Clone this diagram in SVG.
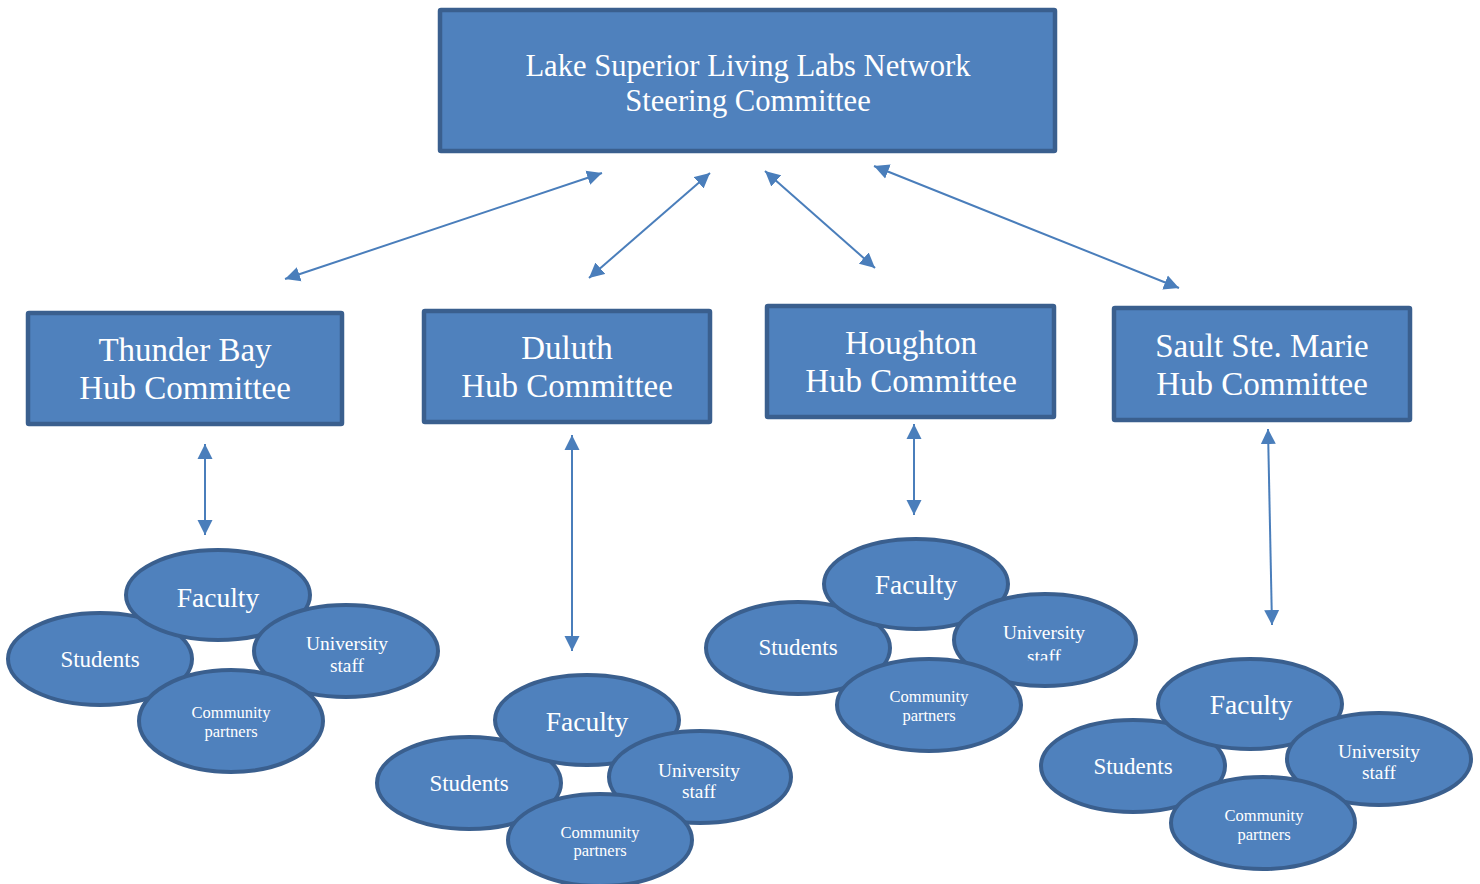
<svg xmlns="http://www.w3.org/2000/svg" width="1480" height="884" viewBox="0 0 1480 884">
<defs>
<marker id="ah" markerUnits="userSpaceOnUse" markerWidth="16" markerHeight="16" viewBox="0 0 16 16" refX="15" refY="8" orient="auto-start-reverse">
<path d="M0,0.5 L15,8 L0,15.5 z" fill="#4A7EBB"/>
</marker>
<clipPath id="hoStaffClip"><rect x="990" y="600" width="110" height="60.5"/></clipPath>
</defs>
<style>
.box{fill:#4F81BD;stroke:#3A5F8E;stroke-width:4.5}
.ell{fill:#4F81BD;stroke:#3A5F8E;stroke-width:4}
.t{font-family:"Liberation Serif","Times New Roman",serif;fill:#FFFFFF;text-anchor:middle}
.conn line{stroke:#4A7EBB;stroke-width:2;marker-start:url(#ah);marker-end:url(#ah)}
</style>
<rect width="1480" height="884" fill="#FFFFFF"/>

<g id="steering">
<rect class="box" x="440" y="10" width="615" height="141" rx="1"/>
<text class="t" x="748" y="76" font-size="30.6">Lake Superior Living Labs Network</text>
<text class="t" x="748" y="111" font-size="30.6">Steering Committee</text>
</g>

<g id="hub-thunder-bay">
<rect class="box" x="28" y="313" width="314" height="111" rx="1"/>
<text class="t" x="185" y="361" font-size="33">Thunder Bay</text>
<text class="t" x="185" y="399" font-size="33">Hub Committee</text>
</g>
<g id="hub-duluth">
<rect class="box" x="424" y="311" width="286" height="111" rx="1"/>
<text class="t" x="567" y="359" font-size="33">Duluth</text>
<text class="t" x="567" y="397" font-size="33">Hub Committee</text>
</g>
<g id="hub-houghton">
<rect class="box" x="767" y="306" width="287" height="111" rx="1"/>
<text class="t" x="911" y="354" font-size="33">Houghton</text>
<text class="t" x="911" y="392" font-size="33">Hub Committee</text>
</g>
<g id="hub-sault">
<rect class="box" x="1114" y="308" width="296" height="112" rx="1"/>
<text class="t" x="1262" y="357" font-size="33">Sault Ste. Marie</text>
<text class="t" x="1262" y="395" font-size="33">Hub Committee</text>
</g>

<g id="connectors" class="conn">
<line x1="285" y1="279" x2="602" y2="173"/>
<line x1="589" y1="278" x2="710" y2="173"/>
<line x1="875" y1="268" x2="765" y2="171"/>
<line x1="1179" y1="288" x2="874" y2="166"/>
<line x1="205" y1="535" x2="205" y2="444"/>
<line x1="572" y1="651" x2="572" y2="435"/>
<line x1="914" y1="515" x2="914" y2="424"/>
<line x1="1272" y1="625" x2="1268" y2="429"/>
</g>

<g id="cluster-thunder-bay">
<g id="tb-students"><ellipse class="ell" cx="100" cy="659" rx="92" ry="46"/>
<text class="t" x="100" y="667" font-size="23">Students</text></g>
<g id="tb-faculty"><ellipse class="ell" cx="218" cy="595" rx="92" ry="45"/>
<text class="t" x="218" y="607" font-size="27.5">Faculty</text></g>
<g id="tb-staff"><ellipse class="ell" cx="346" cy="651" rx="92" ry="46"/>
<text class="t" x="347" y="650" font-size="19.4">University</text>
<text class="t" x="347" y="672" font-size="19.4">staff</text></g>
<g id="tb-community"><ellipse class="ell" cx="231" cy="721" rx="92" ry="51"/>
<text class="t" x="231" y="718" font-size="16.5">Community</text>
<text class="t" x="231" y="737" font-size="16.5">partners</text></g>
</g>

<g id="cluster-duluth">
<g id="du-students"><ellipse class="ell" cx="469" cy="783" rx="92" ry="46"/>
<text class="t" x="469" y="791" font-size="23">Students</text></g>
<g id="du-faculty"><ellipse class="ell" cx="587" cy="720" rx="92" ry="45"/>
<text class="t" x="587" y="731" font-size="27.5">Faculty</text></g>
<g id="du-staff"><ellipse class="ell" cx="700" cy="777" rx="91" ry="46"/>
<text class="t" x="699" y="777" font-size="19.4">University</text>
<text class="t" x="699" y="798" font-size="19.4">staff</text></g>
<g id="du-community"><ellipse class="ell" cx="600" cy="840" rx="92" ry="46"/>
<text class="t" x="600" y="838" font-size="16.5">Community</text>
<text class="t" x="600" y="856" font-size="16.5">partners</text></g>
</g>

<g id="cluster-houghton">
<g id="ho-students"><ellipse class="ell" cx="798" cy="648" rx="92" ry="46"/>
<text class="t" x="798" y="655" font-size="23">Students</text></g>
<g id="ho-faculty"><ellipse class="ell" cx="916" cy="584" rx="92" ry="45"/>
<text class="t" x="916" y="594" font-size="27.5">Faculty</text></g>
<g id="ho-staff"><ellipse class="ell" cx="1045" cy="640" rx="91" ry="46"/>
<text class="t" x="1044" y="639" font-size="19.4">University</text>
<text class="t" x="1044" y="663" font-size="19.4" clip-path="url(#hoStaffClip)">staff</text></g>
<g id="ho-community"><ellipse class="ell" cx="929" cy="705" rx="92" ry="46"/>
<text class="t" x="929" y="702" font-size="16.5">Community</text>
<text class="t" x="929" y="721" font-size="16.5">partners</text></g>
</g>

<g id="cluster-sault">
<g id="ss-students"><ellipse class="ell" cx="1133" cy="766" rx="92" ry="46"/>
<text class="t" x="1133" y="774" font-size="23">Students</text></g>
<g id="ss-faculty"><ellipse class="ell" cx="1250" cy="704" rx="92" ry="45"/>
<text class="t" x="1251" y="714" font-size="27.5">Faculty</text></g>
<g id="ss-staff"><ellipse class="ell" cx="1379" cy="759" rx="92" ry="46"/>
<text class="t" x="1379" y="758" font-size="19.4">University</text>
<text class="t" x="1379" y="779" font-size="19.4">staff</text></g>
<g id="ss-community"><ellipse class="ell" cx="1263" cy="823" rx="92" ry="46"/>
<text class="t" x="1264" y="821" font-size="16.5">Community</text>
<text class="t" x="1264" y="840" font-size="16.5">partners</text></g>
</g>
</svg>
